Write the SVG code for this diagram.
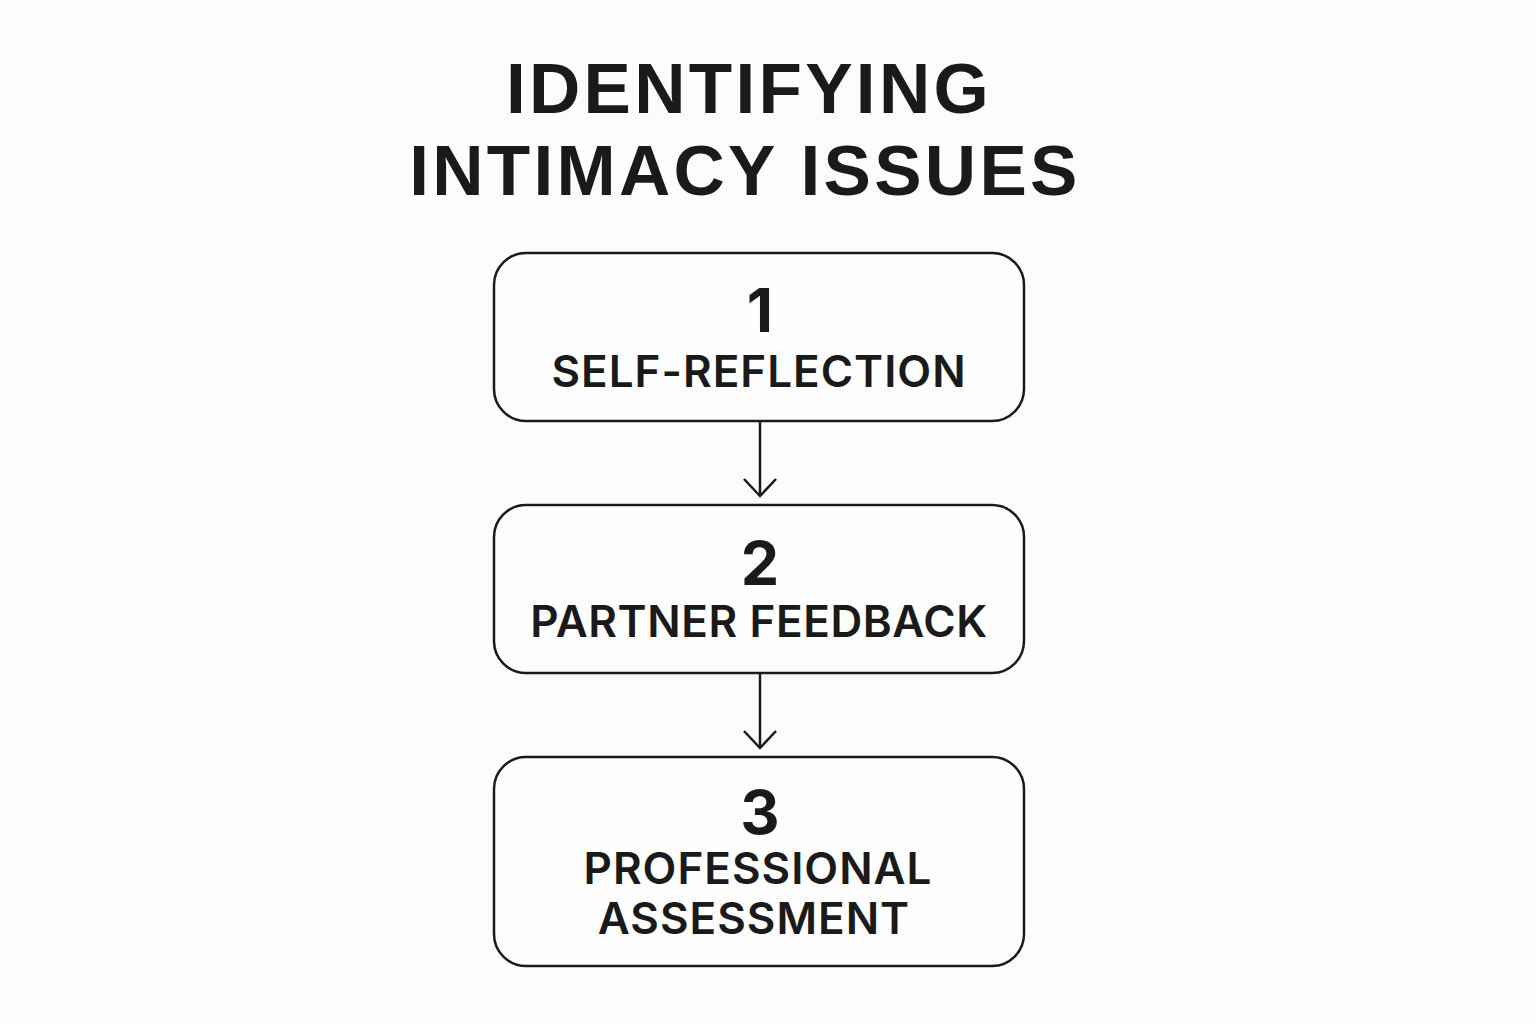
<svg xmlns="http://www.w3.org/2000/svg" width="1536" height="1024" viewBox="0 0 1536 1024">
<style>
.title{font-family:"Liberation Sans",Arial,sans-serif;font-weight:700;font-size:71px;fill:#1a1a1a;text-anchor:middle;letter-spacing:3.3px}
.box{fill:#fefefe;stroke:#1a1a1a;stroke-width:2.5}
.num{font-family:Inter,"Liberation Sans",sans-serif;font-weight:700;font-size:61px;fill:#1a1a1a;text-anchor:middle}
.lbl{font-family:Inter,"Liberation Sans",sans-serif;font-weight:600;font-size:44px;fill:#1a1a1a;text-anchor:middle;letter-spacing:1px}
.conn{stroke:#1a1a1a;stroke-width:2.5;fill:none}
</style>
<defs>
<marker id="arr" viewBox="0 0 22 36" refX="19" refY="18" markerWidth="22" markerHeight="36" markerUnits="userSpaceOnUse" orient="auto">
<path d="M2,2 L19,18 L2,34" fill="none" stroke="#1a1a1a" stroke-width="2.5"/>
</marker>
</defs>
<rect width="1536" height="1024" fill="#fcfcfc"/>
<g id="title">
<text class="title" x="749" y="113">IDENTIFYING</text>
<text class="title" x="745" y="195">INTIMACY ISSUES</text>
</g>
<g id="connectors">
<line class="conn" x1="760" y1="421" x2="760" y2="496" marker-end="url(#arr)"/>
<line class="conn" x1="760" y1="673" x2="760" y2="748" marker-end="url(#arr)"/>
</g>
<g id="node1">
<rect class="box" x="494" y="253" width="530" height="168" rx="32"/>
<text class="num" x="760" y="332">1</text>
<text class="lbl" x="759" y="387">SELF-REFLECTION</text>
</g>
<g id="node2">
<rect class="box" x="494" y="505" width="530" height="168" rx="32"/>
<text class="num" x="760" y="585">2</text>
<text class="lbl" x="759" y="637" style="letter-spacing:0.6px">PARTNER FEEDBACK</text>
</g>
<g id="node3">
<rect class="box" x="494" y="757" width="530" height="209" rx="32"/>
<text class="num" x="760" y="834">3</text>
<text class="lbl" x="758" y="884">PROFESSIONAL</text>
<text class="lbl" x="754" y="934">ASSESSMENT</text>
</g>
</svg>
